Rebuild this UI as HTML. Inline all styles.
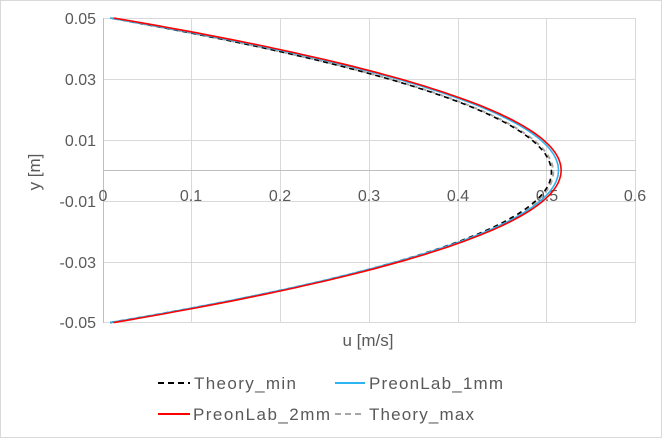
<!DOCTYPE html>
<html><head><meta charset="utf-8"><style>
html,body{margin:0;padding:0;background:#fff;}
svg{display:block;font-family:"Liberation Sans",sans-serif;fill:#595959;}
</style></head><body>
<svg id="s" width="662" height="438" viewBox="0 0 662 438" xmlns="http://www.w3.org/2000/svg">
<rect x="0.5" y="0.5" width="661" height="437" fill="#fff" stroke="#d9d9d9"/>
<g stroke="#d9d9d9" stroke-width="1">
<line x1="103" y1="18.5" x2="636" y2="18.5"/>
<line x1="103" y1="79.5" x2="636" y2="79.5"/>
<line x1="103" y1="140.5" x2="636" y2="140.5"/>
<line x1="103" y1="201.5" x2="636" y2="201.5"/>
<line x1="103" y1="262.5" x2="636" y2="262.5"/>
<line x1="103" y1="322.5" x2="636" y2="322.5"/>
<line x1="191.5" y1="18" x2="191.5" y2="323"/>
<line x1="280.5" y1="18" x2="280.5" y2="323"/>
<line x1="369.5" y1="18" x2="369.5" y2="323"/>
<line x1="458.5" y1="18" x2="458.5" y2="323"/>
<line x1="546.5" y1="18" x2="546.5" y2="323"/>
<line x1="635.5" y1="18" x2="635.5" y2="323"/>
</g>
<line x1="103.5" y1="18" x2="103.5" y2="323" stroke="#bfbfbf"/>
<line x1="103" y1="170.5" x2="636" y2="170.5" stroke="#bfbfbf"/>
<g font-size="16" text-anchor="end">
<text x="96" y="24">0.05</text>
<text x="96" y="85">0.03</text>
<text x="96" y="146">0.01</text>
<text x="96" y="207">-0.01</text>
<text x="96" y="268">-0.03</text>
<text x="96" y="328">-0.05</text>
</g>
<g font-size="16" text-anchor="middle">
<text x="103" y="201">0</text>
<text x="191" y="201">0.1</text>
<text x="280" y="201">0.2</text>
<text x="369" y="201">0.3</text>
<text x="458" y="201">0.4</text>
<text x="547" y="201">0.5</text>
<text x="635" y="201">0.6</text>
</g>
<text x="0" y="0" font-size="17" text-anchor="middle" transform="translate(40,172) rotate(-90)">y [m]</text>
<text x="368" y="346" font-size="17" text-anchor="middle">u [m/s]</text>
<g id="curves" fill="none"></g>
<g font-size="17">
<line x1="158" y1="383" x2="190" y2="383" stroke="#000" stroke-width="2" stroke-dasharray="6,4"/>
<text x="194" y="389" textLength="102">Theory_min</text>
<line x1="335" y1="383" x2="365" y2="383" stroke="#2eb4f0" stroke-width="2"/>
<text x="369" y="389" textLength="134">PreonLab_1mm</text>
<line x1="158" y1="414" x2="190" y2="414" stroke="#ff0000" stroke-width="2"/>
<text x="193" y="420" textLength="137">PreonLab_2mm</text>
<line x1="335" y1="414" x2="365" y2="414" stroke="#a6a6a6" stroke-width="2" stroke-dasharray="6,4"/>
<text x="369" y="420" textLength="105">Theory_max</text>
</g>
</svg>
<script>
(function(){
 var g=document.getElementById('curves');
 function X(u){return 103+u*(532.7/0.6);}
 function Y(y){return 170.3-y*(152.3/0.05);}
 function mk(umax,u0,col,dash,w,sk){
  var pts=[];
  for(var i=0;i<=200;i++){
   var y=-0.05+i*0.0005;
   var t=y/0.05;
   var u=u0+(umax-u0)*(1-t*t)+sk*t*(1-t*t);
   pts.push(X(u).toFixed(1)+','+Y(y).toFixed(1));
  }
  var p=document.createElementNS('http://www.w3.org/2000/svg','polyline');
  p.setAttribute('points',pts.join(' '));
  p.setAttribute('stroke',col);p.setAttribute('stroke-width',w);
  if(dash)p.setAttribute('stroke-dasharray',dash);
  g.appendChild(p);
 }
 mk(0.507,0.008,'#a6a6a6','5,4',2,-0.012);
 mk(0.505,0.008,'#000','5,4',1.6,-0.012);
 mk(0.513,0.008,'#2eb4f0',null,1.6,0.0);
 mk(0.516,0.012,'#ff0000',null,1.6,0.0);
})();
</script>
</body></html>
